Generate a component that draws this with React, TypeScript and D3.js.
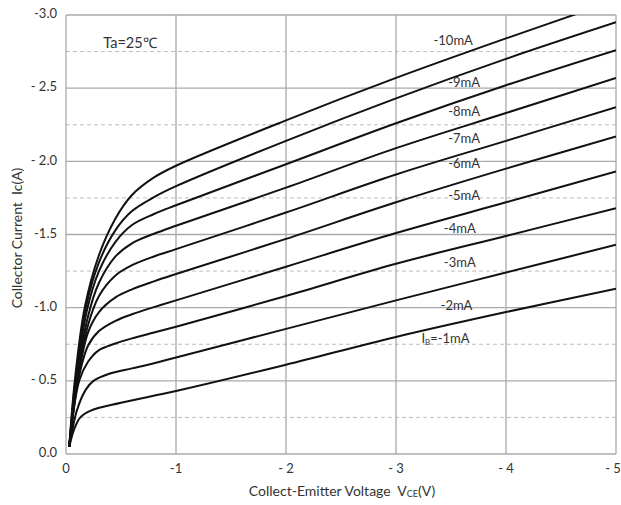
import React from "react";
import * as d3 from "d3";

const W = 621;
const H = 505;
const M = { left: 66, right: 5, top: 15, bottom: 51 };

const xTicks = [0, 1, 2, 3, 4, 5];
const xTickLabels = ["0", "-1", "- 2", "- 3", "- 4", "- 5"];
const yTicks = [0, 0.5, 1.0, 1.5, 2.0, 2.5, 3.0];
const yTickLabels = ["0.0", "- 0.5", "-1.0", "-1.5", "- 2.0", "- 2.5", "-3.0"];
const yMinor = [0.25, 0.75, 1.25, 1.75, 2.25, 2.75];

const seriesNames = ["-1mA", "-2mA", "-3mA", "-4mA", "-5mA", "-6mA", "-7mA", "-8mA", "-9mA", "-10mA"];

const ib1: [number, number][] = [[0.03, 0.05], [0.07, 0.16], [0.13, 0.25], [0.22, 0.295], [0.5, 0.35], [1, 0.43], [2, 0.61], [3, 0.8], [4, 0.97], [5, 1.13]];
const ib2: [number, number][] = [[0.03, 0.05], [0.1, 0.3], [0.18, 0.44], [0.25, 0.5], [0.4, 0.55], [0.6, 0.585], [0.8, 0.62], [1, 0.66], [2, 0.855], [3, 1.05], [4, 1.24], [5, 1.43]];
const ib3: [number, number][] = [[0.03, 0.05], [0.12, 0.5], [0.2, 0.63], [0.3, 0.71], [0.45, 0.755], [0.6, 0.79], [0.8, 0.83], [1, 0.87], [2, 1.08], [3, 1.3], [4, 1.49], [5, 1.68]];
const ib4: [number, number][] = [[0.03, 0.05], [0.11, 0.5], [0.2, 0.74], [0.3, 0.84], [0.45, 0.91], [0.6, 0.955], [0.8, 1.004], [1, 1.05], [2, 1.28], [3, 1.51], [4, 1.72], [5, 1.93]];
const ib5: [number, number][] = [[0.03, 0.05], [0.105, 0.5], [0.2, 0.83], [0.3, 0.97], [0.45, 1.07], [0.6, 1.125], [0.8, 1.18], [1, 1.23], [2, 1.47], [3, 1.72], [4, 1.95], [5, 2.17]];
const ib6: [number, number][] = [[0.03, 0.05], [0.1, 0.5], [0.2, 0.88], [0.3, 1.08], [0.45, 1.22], [0.6, 1.29], [0.8, 1.35], [1, 1.4], [2, 1.65], [3, 1.91], [4, 2.14], [5, 2.37]];
const ib7: [number, number][] = [[0.03, 0.05], [0.095, 0.5], [0.2, 0.94], [0.3, 1.17], [0.45, 1.35], [0.6, 1.44], [0.8, 1.505], [1, 1.56], [2, 1.82], [3, 2.09], [4, 2.33], [5, 2.57]];
const ib8: [number, number][] = [[0.03, 0.05], [0.09, 0.5], [0.19, 0.98], [0.3, 1.25], [0.45, 1.45], [0.6, 1.565], [0.8, 1.64], [1, 1.7], [2, 1.98], [3, 2.26], [4, 2.52], [5, 2.76]];
const ib9: [number, number][] = [[0.03, 0.05], [0.085, 0.5], [0.18, 1.0], [0.3, 1.31], [0.45, 1.53], [0.6, 1.66], [0.8, 1.755], [1, 1.83], [2, 2.14], [3, 2.43], [4, 2.70], [5, 2.95]];
const ib10: [number, number][] = [[0.03, 0.05], [0.08, 0.5], [0.17, 1.0], [0.3, 1.36], [0.45, 1.61], [0.6, 1.77], [0.8, 1.89], [1, 1.97], [2, 2.28], [3, 2.57], [4, 2.84], [5, 3.1]];

const series = [ib1, ib2, ib3, ib4, ib5, ib6, ib7, ib8, ib9, ib10];

// label anchor positions in data units (V, A)
const labelPos: [number, number][] = [
  [3.45, 0.78], [3.55, 1.01], [3.58, 1.30], [3.58, 1.53], [3.62, 1.76],
  [3.62, 1.98], [3.62, 2.15], [3.62, 2.33], [3.62, 2.53], [3.52, 2.82],
];

const FONT = "Lato, 'Open Sans', sans-serif";

export default function App() {
  const x = d3.scaleLinear().domain([0, 5]).range([M.left, W - M.right]);
  const y = d3.scaleLinear().domain([0, 3]).range([H - M.bottom, M.top]);
  const line = d3
    .line<[number, number]>()
    .x((d) => x(d[0]))
    .y((d) => y(d[1]))
    .curve(d3.curveCatmullRom.alpha(0.5));

  const x0 = x(0), x1 = x(5), y0 = y(0), y1 = y(3);

  return (
    <svg width={W} height={H} style={{ display: "block", position: "absolute", left: 0, top: 0, background: "#fff" }}>
      <defs>
        <clipPath id="plot">
          <rect x={x0} y={y1} width={x1 - x0} height={y0 - y1} />
        </clipPath>
      </defs>
      {yMinor.map((v) => (
        <line key={"m" + v} x1={x0} x2={x1} y1={y(v)} y2={y(v)} stroke="#bdbdbd" strokeWidth={1} strokeDasharray="4,3" />
      ))}
      {yTicks.map((v) => (
        <line key={"y" + v} x1={x0} x2={x1} y1={y(v)} y2={y(v)} stroke="#aaaaaa" strokeWidth={1.3} />
      ))}
      {xTicks.map((v) => (
        <line key={"x" + v} x1={x(v)} x2={x(v)} y1={y0} y2={y1} stroke="#aaaaaa" strokeWidth={1.3} />
      ))}
      <g clipPath="url(#plot)">
        {series.map((s, i) => (
          <path key={i} d={line(s) || ""} fill="none" stroke="#111" strokeWidth={2} />
        ))}
      </g>
      {seriesNames.map((n, i) =>
        i === 0 ? (
          <text key={n} x={x(labelPos[i][0])} y={y(labelPos[i][1])} fontFamily={FONT} fontSize={13} fill="#333" textAnchor="middle" dominantBaseline="middle">
            I<tspan fontSize={8} dy={3}>B</tspan><tspan dy={-3}>{"=" + n}</tspan>
          </text>
        ) : (
          <text key={n} x={x(labelPos[i][0])} y={y(labelPos[i][1])} fontFamily={FONT} fontSize={13} fill="#333" textAnchor="middle" dominantBaseline="middle">
            {n}
          </text>
        )
      )}
      <text x={130} y={44} fontFamily={FONT} fontSize={14.5} fill="#333" textAnchor="middle" dominantBaseline="middle">
        Ta=25℃
      </text>
      {yTicks.map((v, i) => (
        <text key={"yl" + v} x={57} y={y(v)} fontFamily={FONT} fontSize={13} fill="#333" textAnchor="end" dominantBaseline="middle">
          {yTickLabels[i]}
        </text>
      ))}
      {xTicks.map((v, i) => (
        <text key={"xl" + v} x={i === 5 ? x(v) - 3 : x(v)} y={470} fontFamily={FONT} fontSize={13} fill="#333" textAnchor="middle" dominantBaseline="middle">
          {xTickLabels[i]}
        </text>
      ))}
      <text x={342} y={492} fontFamily={FONT} fontSize={14} fill="#333" textAnchor="middle" dominantBaseline="middle">
        Collect-Emitter Voltage{"\u00a0\u00a0"}V<tspan fontSize={9} dy={3}>CE</tspan><tspan dy={-3}>(V)</tspan>
      </text>
      <text transform={`translate(18,238) rotate(-90)`} fontFamily={FONT} fontSize={14} fill="#333" textAnchor="middle" dominantBaseline="middle">
        Collector Current{"\u00a0\u00a0"}Ic(A)
      </text>
    </svg>
  );
}
